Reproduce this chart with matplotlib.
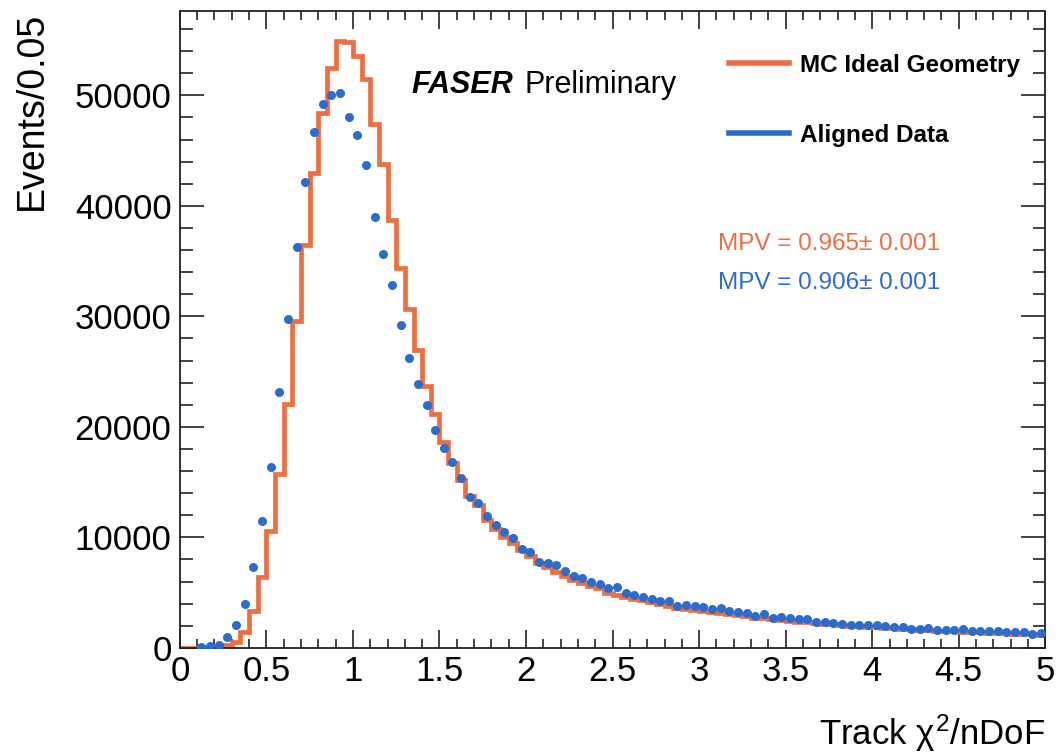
import numpy as np
import matplotlib
matplotlib.use("Agg")
import matplotlib.pyplot as plt
from matplotlib.lines import Line2D
from matplotlib.ticker import MultipleLocator

plt.rcParams['font.family'] = ['Liberation Sans', 'DejaVu Sans']
plt.rcParams['mathtext.fontset'] = 'custom'
plt.rcParams['mathtext.rm'] = 'Liberation Sans'
plt.rcParams['mathtext.it'] = 'Liberation Sans'

# Track chi2/nDoF, 100 bins of 0.05 from 0 to 5
bin_edges = np.linspace(0, 5, 101)

# MC ideal geometry (orange histogram)
mc_counts = [
    0, 0, 0, 50, 150, 300, 550, 1450, 3350, 6450,
    10550, 15700, 22100, 29600, 36500, 43000, 48400, 52500, 54900, 54800,
    53600, 51500, 47400, 43800, 38700, 34400, 30700, 27000, 23700, 21200,
    18650, 16700, 15200, 13700, 12900, 11600, 10800, 10050, 9450, 8850,
    8300, 7700, 7350, 6900, 6500, 6150, 5850, 5600, 5400, 5000,
    4800, 4650, 4450, 4300, 4150, 3950, 3800, 3650, 3550, 3450,
    3350, 3250, 3150, 3050, 2950, 2850, 2750, 2680, 2600, 2520,
    2450, 2380, 2300, 2250, 2180, 2120, 2060, 2000, 1950, 1900,
    1850, 1800, 1760, 1720, 1680, 1640, 1600, 1560, 1520, 1490,
    1460, 1430, 1400, 1370, 1340, 1310, 1280, 1250, 1220, 1200,
]

# aligned data (blue points)
data_counts = [
    0, 0, 100, 150, 300, 1000, 2100, 4000, 7350, 11500,
    16400, 23200, 29800, 36300, 42200, 46700, 49200, 50000, 50200, 48000,
    46400, 43700, 39000, 35600, 32800, 29200, 26200, 23900, 22000, 19700,
    18050, 16800, 15400, 13650, 13100, 11950, 11100, 10500, 9950, 8950,
    8700, 7800, 7700, 7500, 7000, 6550, 6300, 5950, 5800, 5450,
    5500, 4950, 4750, 4600, 4400, 4200, 4200, 3800, 3900, 3750,
    3680, 3500, 3590, 3350, 3260, 3130, 2890, 3040, 2740, 2830,
    2680, 2620, 2590, 2380, 2350, 2290, 2170, 2110, 2080, 2050,
    2050, 1990, 1900, 1870, 1750, 1750, 1780, 1630, 1660, 1660,
    1690, 1570, 1540, 1570, 1510, 1480, 1450, 1420, 1270, 1390,
]

mc_label = "MC Ideal Geometry"
data_label = "Aligned Data"
mc_mpv = "MPV = 0.965\u00b1 0.001"
data_mpv = "MPV = 0.906\u00b1 0.001"

orange = "#EE6E40"
blue = "#2C6CCC"

mc_counts = np.array(mc_counts)
data_counts = np.array(data_counts, dtype=float)
centers = 0.5 * (bin_edges[:-1] + bin_edges[1:])
shown = data_counts > 0

fig = plt.figure(figsize=(10.58, 7.56), dpi=100)
ax = fig.add_axes([0.170, 0.143, 0.818, 0.842])

ax.stairs(mc_counts, bin_edges, baseline=None, color=orange, lw=3.4, zorder=2)
ax.plot(centers[shown], data_counts[shown], 'o', color=blue, ms=6.5,
        mec='none', zorder=3)

ax.set_xlim(0, 5)
ax.set_ylim(0, 57600)

ax.xaxis.set_major_locator(MultipleLocator(0.5))
ax.xaxis.set_minor_locator(MultipleLocator(0.1))
ax.yaxis.set_major_locator(MultipleLocator(10000))
ax.yaxis.set_minor_locator(MultipleLocator(2000))
ax.set_xticks(np.arange(0, 5.01, 0.5))
ax.set_xticklabels(["0", "0.5", "1", "1.5", "2", "2.5", "3", "3.5", "4", "4.5", "5"])

ax.tick_params(axis='both', which='both', direction='in', top=True, right=True,
               width=1.2, labelsize=25, color='#222222')
ax.tick_params(axis='x', which='major', length=13, pad=5)
ax.tick_params(axis='x', which='minor', length=6.5)
ax.tick_params(axis='y', which='major', length=17, pad=6)
ax.tick_params(axis='y', which='minor', length=9)
for s in ax.spines.values():
    s.set_linewidth(1.3)
    s.set_color('#222222')

ax.set_xlabel("Track $\\chi^2$/nDoF", fontsize=25, loc='right', labelpad=18)
ax.set_ylabel("Events/0.05", fontsize=27, loc='top', labelpad=18)

ax.text(0.268, 0.885, "FASER", transform=ax.transAxes, fontsize=22,
        fontweight='bold', fontstyle='italic', va='center')
ax.text(0.398, 0.885, "Preliminary", transform=ax.transAxes, fontsize=22,
        va='center')

ax.text(0.622, 0.634, mc_mpv, transform=ax.transAxes, fontsize=17.5,
        color=orange, va='center')
ax.text(0.622, 0.573, data_mpv, transform=ax.transAxes, fontsize=17.5,
        color=blue, va='center')

handles = [Line2D([], [], color=orange, lw=4),
           Line2D([], [], color=blue, lw=4)]
leg = ax.legend(handles, [mc_label, data_label], loc='upper right',
                bbox_to_anchor=(0.996, 0.968), frameon=False,
                prop={'size': 17.5, 'weight': 'bold'},
                handlelength=2.45, handletextpad=0.45, labelspacing=1.95)

fig.savefig("out.png", dpi=100)
